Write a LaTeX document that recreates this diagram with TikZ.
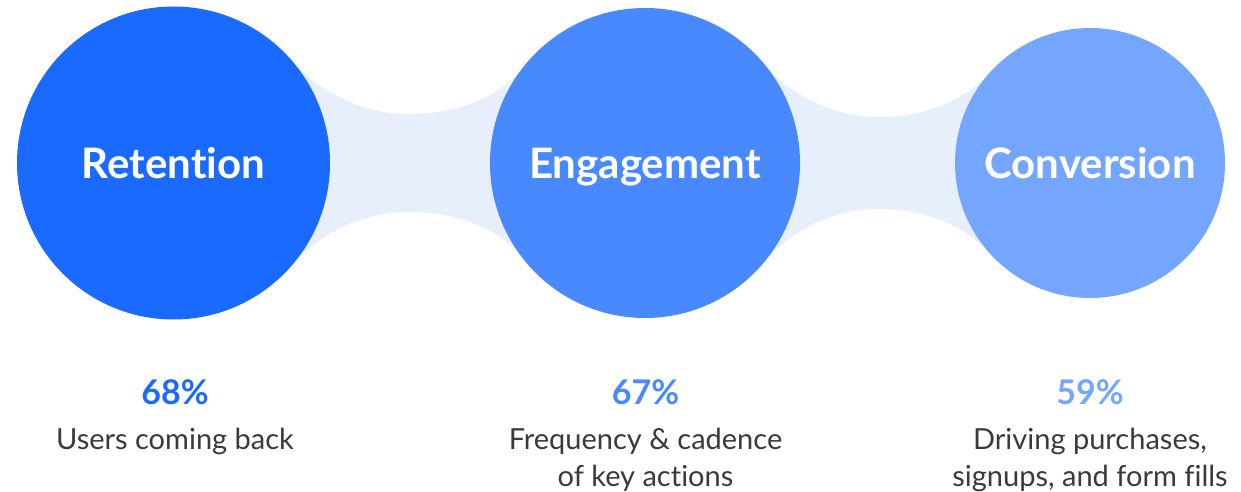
\documentclass[tikz,border=0pt]{standalone}
\usepackage{fontspec}
\setmainfont{Lato}[Ligatures=CommonOff]
\usetikzlibrary{positioning,backgrounds}
\definecolor{retblue}{RGB}{26,106,255}
\definecolor{engblue}{RGB}{72,137,255}
\definecolor{conblue}{RGB}{117,166,255}
\definecolor{bridgeblue}{RGB}{231,239,252}
\definecolor{textgray}{RGB}{58,58,62}
\tikzset{
  stage/.style={circle, inner sep=0pt, text=white, text height=30pt, text depth=0pt,
    font=\fontsize{42}{50}\selectfont\bfseries},
  pct/.style={anchor=base, inner sep=0pt, font=\fontsize{34}{40}\selectfont\bfseries},
  desc/.style={align=center, inner sep=0pt, text=textgray, font=\fontsize{29}{37}\selectfont},
  bridge/.style={fill=bridgeblue}
}

\begin{document}
\begin{tikzpicture}[x=1pt, y=-1pt]
    \useasboundingbox (0,0) rectangle (1241,492);

    % Stage circles
    \node[stage, fill=retblue, minimum size=313pt] (R) at (173.5,163) {Retention};
    \node[stage, fill=engblue, minimum size=310pt] (E) at (645,163) {Engagement};
    \node[stage, fill=conblue, minimum size=270pt] (C) at (1090,163) {Conversion};

    % Bridges between the circles
    \begin{scope}[on background layer]
    \fill[bridge] (R.38) .. controls (326,96) and (367,114) .. (408,114)
        .. controls (449,114) and (489,103) .. (E.145) -- (E.215)
        .. controls (489,223) and (449,212) .. (408,212)
        .. controls (367,212) and (326,230) .. (R.322) -- cycle;
    \fill[bridge] (E.37) .. controls (797,99) and (838,117) .. (878,117)
        .. controls (917,117) and (954,106) .. (C.142) -- (C.218)
        .. controls (954,220) and (917,209) .. (878,209)
        .. controls (838,209) and (797,227) .. (E.323) -- cycle;
    \end{scope}

    % Figures
    \node[pct, text=retblue] (P1) at (175,404) {68\%};
    \node[pct, text=engblue] (P2) at (645.5,404) {67\%};
    \node[pct, text=conblue] (P3) at (1090,404) {59\%};

    % Descriptions
    \node[desc, below=23pt of P1] (D1) {Users coming back};
    \node[desc, below=23pt of P2] (D2) {Frequency \& cadence\\of key actions};
    \node[desc, below=23pt of P3] (D3) {Driving purchases,\\signups, and form fills};
\end{tikzpicture}
\end{document}
